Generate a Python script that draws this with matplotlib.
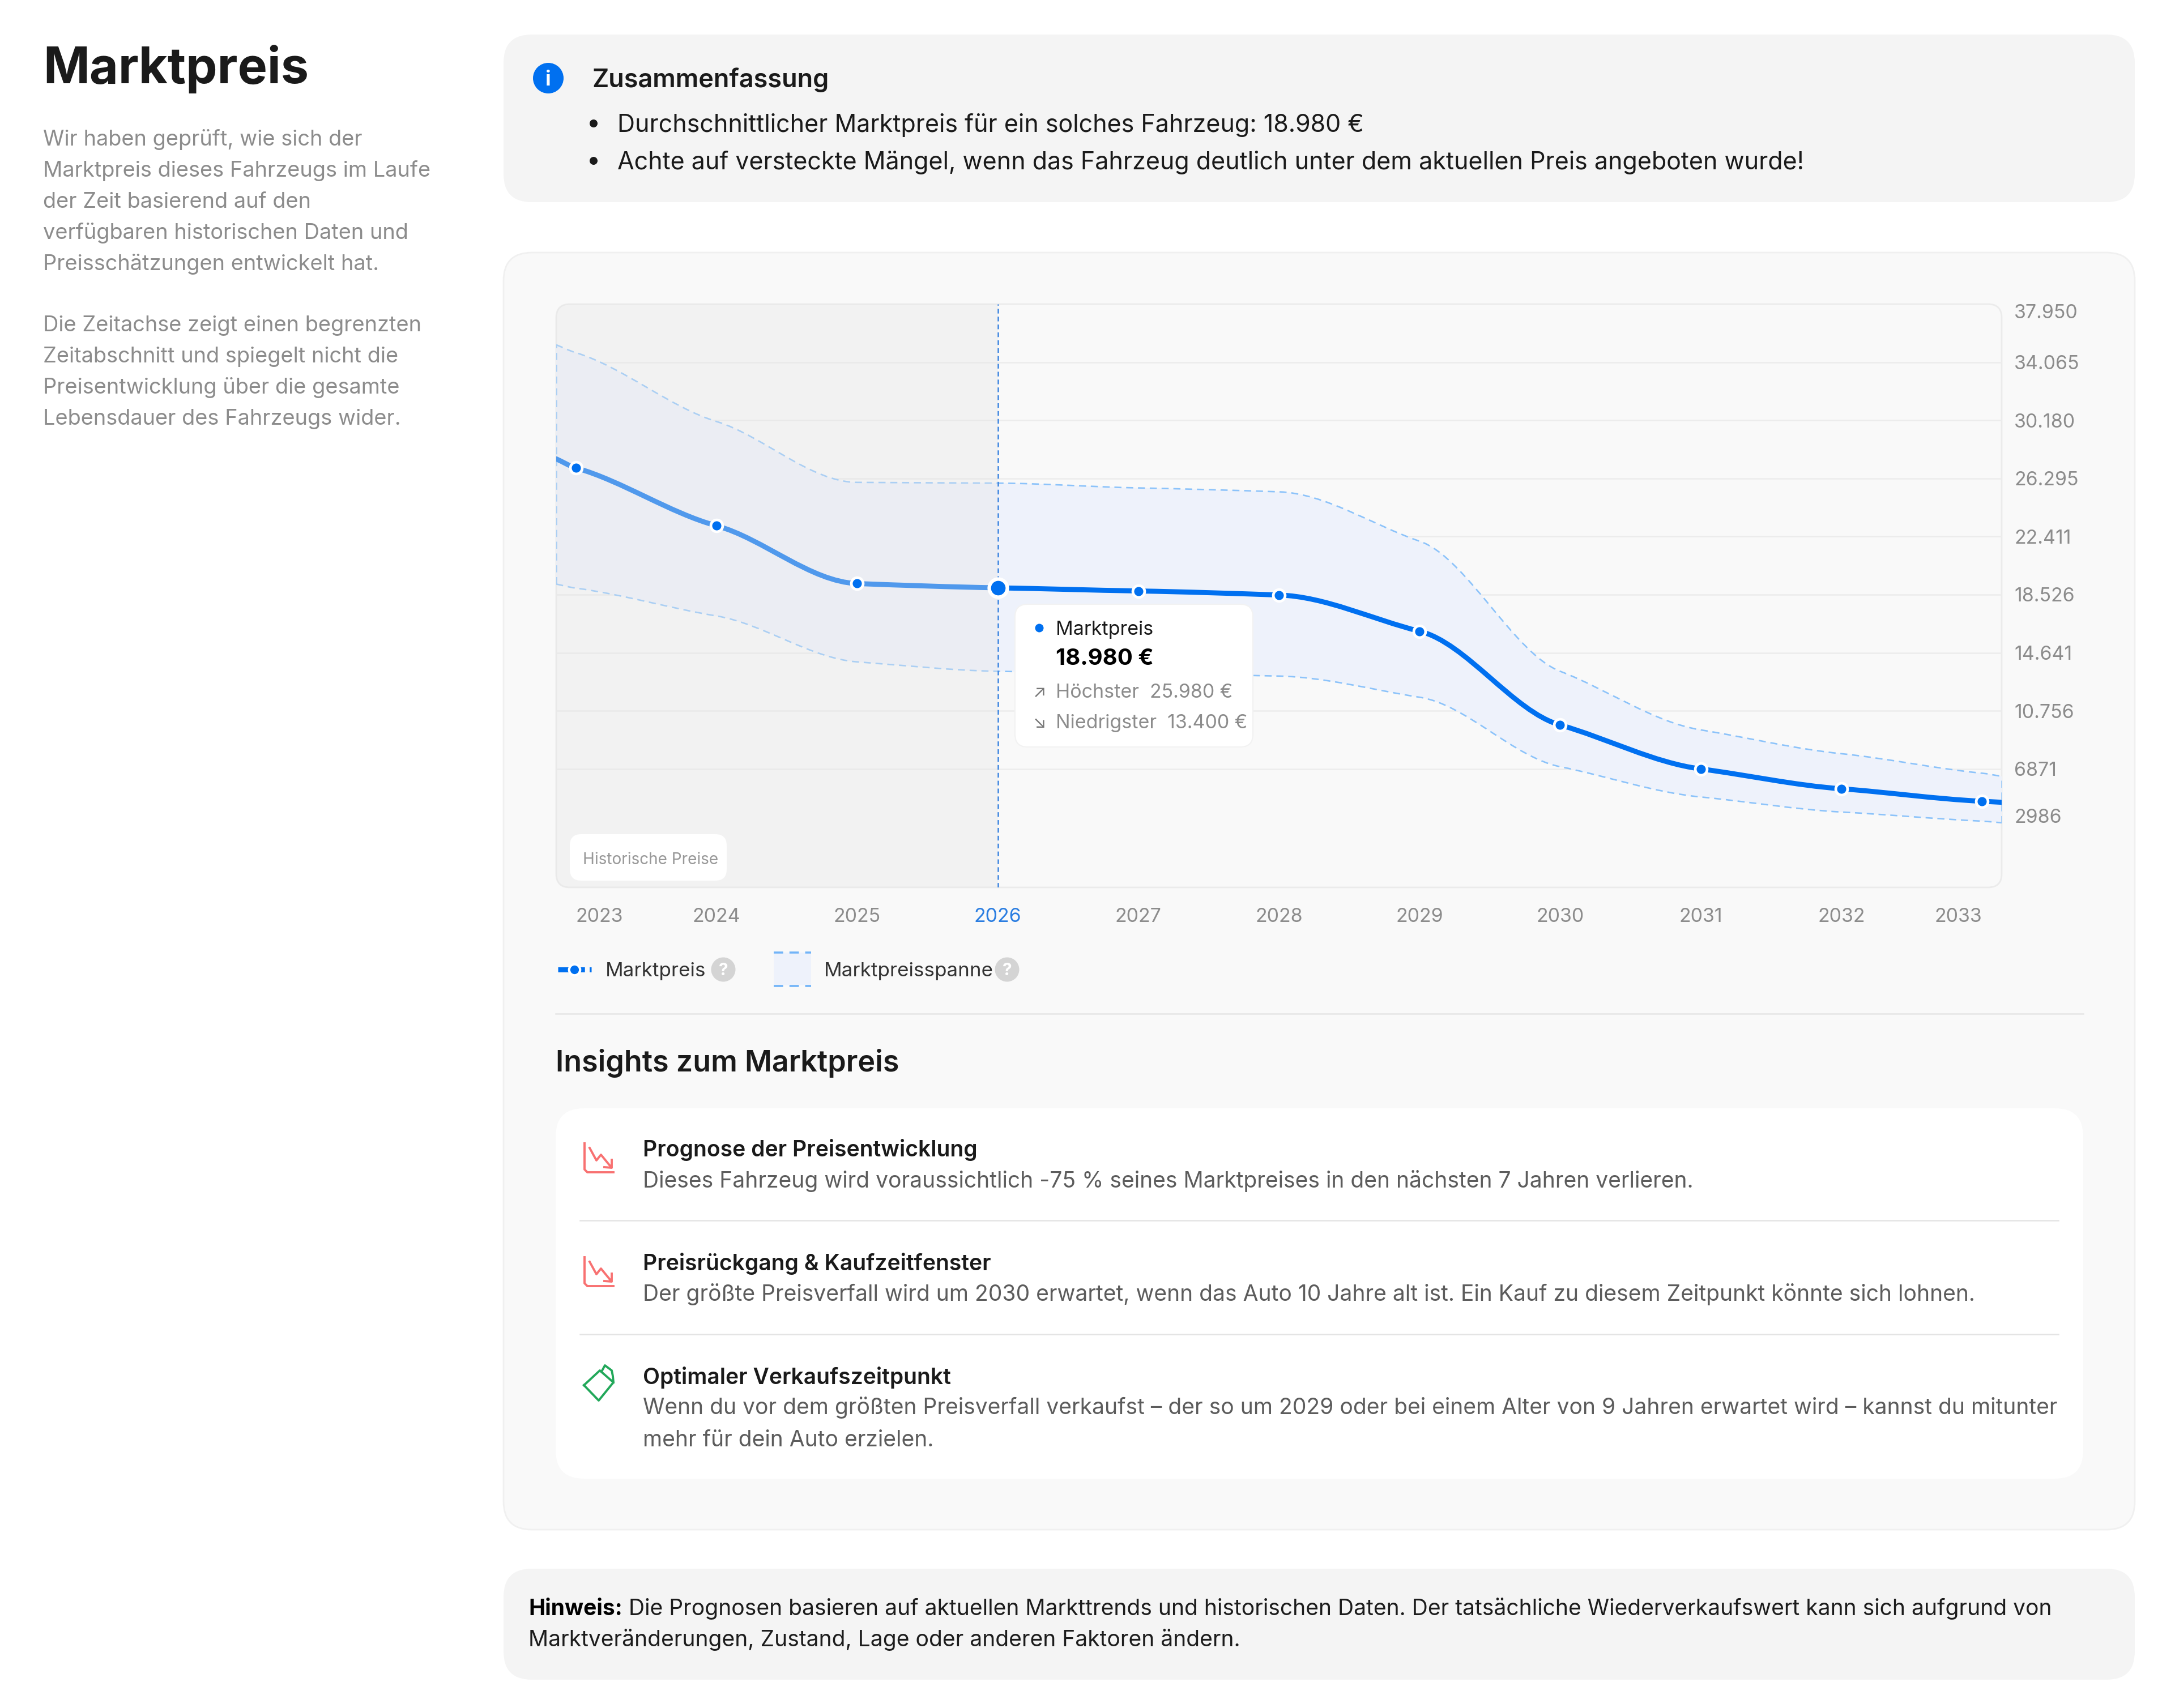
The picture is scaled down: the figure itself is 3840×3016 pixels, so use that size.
import numpy as np
import matplotlib
matplotlib.use("Agg")
import matplotlib.pyplot as plt
from matplotlib.patches import FancyBboxPatch, Circle, PathPatch
from matplotlib.path import Path

plt.rcParams['font.family'] = ['Inter', 'DejaVu Sans']
plt.rcParams['lines.scale_dashes'] = False

# ---------- data ----------
years = [2023, 2024, 2025, 2026, 2027, 2028, 2029, 2030, 2031, 2032, 2033]
edge_left = 2022.86
edge_right = 2033.14
price = [27604, 27000, 23130, 19266, 18980, 18770, 18500, 16080, 9808, 6871, 5544, 4710, 4640]
upper = [35230, 34700, 30100, 26030, 25980, 25660, 25400, 22100, 13400, 9480, 7890, 6586, 6376]
lower = [19230, 18960, 17100, 14030, 13400, 13250, 13080, 11665, 7020, 4995, 3990, 3380, 3270]
y_ticks = [37950, 34065, 30180, 26295, 22411, 18526, 14641, 10756, 6871, 2986]
y_bottom = -1051
current_year = 2026

para1 = ["Wir haben geprüft, wie sich der", "Marktpreis dieses Fahrzeugs im Laufe",
         "der Zeit basierend auf den", "verfügbaren historischen Daten und",
         "Preisschätzungen entwickelt hat."]
para2 = ["Die Zeitachse zeigt einen begrenzten", "Zeitabschnitt und spiegelt nicht die",
         "Preisentwicklung über die gesamte", "Lebensdauer des Fahrzeugs wider."]
summary = ["Durchschnittlicher Marktpreis für ein solches Fahrzeug: 18.980 €",
           "Achte auf versteckte Mängel, wenn das Fahrzeug deutlich unter dem aktuellen Preis angeboten wurde!"]
insights = [
    ("Prognose der Preisentwicklung", 2028,
     [("Dieses Fahrzeug wird voraussichtlich -75 % seines Marktpreises in den nächsten 7 Jahren verlieren.", 2083)]),
    ("Preisrückgang & Kaufzeitfenster", 2229,
     [("Der größte Preisverfall wird um 2030 erwartet, wenn das Auto 10 Jahre alt ist. Ein Kauf zu diesem Zeitpunkt könnte sich lohnen.", 2283)]),
    ("Optimaler Verkaufszeitpunkt", 2430,
     [("Wenn du vor dem größten Preisverfall verkaufst – der so um 2029 oder bei einem Alter von 9 Jahren erwartet wird – kannst du mitunter", 2483),
      ("mehr für dein Auto erzielen.", 2540)]),
]

W, H = 3840, 3016
BLUE = '#0070f0'
GREY = '#8c8c8c'
DARK = '#1a1a1a'

fig = plt.figure(figsize=(W / 100, H / 100), dpi=100, facecolor='white')

def full_axes(z):
    a = fig.add_axes([0, 0, 1, 1], zorder=z)
    a.set_xlim(0, W); a.set_ylim(H, 0); a.axis('off')
    a.patch.set_alpha(0)
    return a

pg = full_axes(0)
top = full_axes(3)

def card(a, x0, y0, x1, y1, r, fc, ec='none', lw=0, z=1):
    p = FancyBboxPatch((x0, y0), x1 - x0, y1 - y0, boxstyle=f"round,pad=0,rounding_size={r}",
                       fc=fc, ec=ec, lw=lw, zorder=z)
    a.add_patch(p)
    return p

def T(a, x, cy, s, px, color=DARK, weight='normal', ha='left', z=5):
    return a.text(x, cy + 0.36 * px, s, fontsize=px * 0.72, color=color, fontweight=weight,
                  ha=ha, va='baseline', zorder=z)

# ---------- page ----------
T(pg, 76, 115, "Marktpreis", 88, color=DARK, weight='bold')
for i, s in enumerate(para1):
    T(pg, 76, 243 + i * 55, s, 38, color=GREY)
for i, s in enumerate(para2):
    T(pg, 76, 571 + i * 55, s, 38, color=GREY)

card(pg, 889, 61, 3769, 357, 50, '#f4f4f4')
pg.add_patch(Circle((968, 138), 27, fc=BLUE, ec='none', zorder=4))
T(pg, 968, 138, "i", 36, color='white', weight='bold', ha='center')
T(pg, 1046, 138, "Zusammenfassung", 45, weight='semibold')
for s, cy in zip(summary, [218, 284]):
    pg.add_patch(Circle((1048, cy), 7, fc=DARK, ec='none', zorder=4))
    T(pg, 1090, cy, s, 43, color=DARK)

card(pg, 889, 446, 3769, 2701, 50, '#f9f9f9', ec='#f0f0f0', lw=2)
frame = card(pg, 982, 537, 3534, 1567, 24, 'none', ec='#ebebeb', lw=2, z=3)

# ---------- chart ----------
ax = fig.add_axes([982 / W, 1 - 1567 / H, (3534 - 982) / W, (1567 - 537) / H], zorder=1)
ax.patch.set_alpha(0)
for s in ax.spines.values():
    s.set_visible(False)
xs = np.array([edge_left] + years + [edge_right], dtype=float)
ax.set_xlim(edge_left, edge_right)
ax.set_ylim(y_bottom, y_ticks[0])

def monotone_path(x, y):
    x = np.asarray(x, float); y = np.asarray(y, float)
    h = np.diff(x); s = np.diff(y) / h
    m = np.zeros_like(y)
    m[0], m[-1] = s[0], s[-1]
    for i in range(1, len(y) - 1):
        if s[i - 1] * s[i] > 0:
            m[i] = (h[i - 1] + h[i]) * 2 * s[i - 1] * s[i] / (s[i - 1] * (h[i - 1] + 2 * h[i]) + s[i] * (2 * h[i - 1] + h[i]))
    v = [(x[0], y[0])]
    for i in range(len(h)):
        v += [(x[i] + h[i] / 3, y[i] + m[i] * h[i] / 3),
              (x[i + 1] - h[i] / 3, y[i + 1] - m[i + 1] * h[i] / 3),
              (x[i + 1], y[i + 1])]
    return np.array(v)

def as_path(v):
    return Path(v, [Path.MOVETO] + [Path.CURVE4] * (len(v) - 1))

vu = monotone_path(xs, upper)
vl = monotone_path(xs, lower)
band_v = np.vstack([vu, vl[::-1], vu[:1]])
band_c = [Path.MOVETO] + [Path.CURVE4] * (len(vu) - 1) + [Path.LINETO] + [Path.CURVE4] * (len(vl) - 1) + [Path.LINETO]
ax.add_patch(PathPatch(Path(band_v, band_c), fc='#eef2fb', ec='none', zorder=1.5))

ax.set_yticks(y_ticks[1:-1])
ax.set_xticks(years)
ax.grid(axis='y', color='#ececec', lw=1.8, zorder=1)
ax.set_axisbelow(True)
ax.grid(axis='x', visible=False)
ax.tick_params(length=0)

DASH = (0, (9, 6))
for v in (vu, vl):
    ax.add_patch(PathPatch(as_path(v), fc='none', ec='#8cc3fa', lw=1.9, ls=DASH, zorder=2))
ax.vlines([edge_left, edge_right], [lower[0], lower[-1]], [upper[0], upper[-1]],
          color='#8cc3fa', lw=1.9, ls=DASH, zorder=2)
ax.add_patch(PathPatch(as_path(monotone_path(xs, price)), fc='none', ec=BLUE, lw=6.4,
                       capstyle='round', zorder=3))
# history overlay
ax.axvspan(edge_left, current_year, color='#e6e6e6', alpha=0.35, lw=0, zorder=4)
ax.axvline(current_year, color='#3d85e0', lw=1.8, ls=(0, (6, 4)), zorder=5)
pts = price[1:-1]
ax.plot(years, pts, ls='none', marker='o', ms=15, mfc=BLUE, mec='white', mew=3.4, zorder=6)
i_now = years.index(current_year)
ax.plot([years[i_now]], [pts[i_now]], ls='none', marker='o', ms=23, mfc=BLUE, mec='white', mew=4.5, zorder=7)

# axis labels
ax.yaxis.tick_right()
ax.set_yticks(y_ticks)
ax.set_yticklabels([f"{v:,}".replace(',', '.') if v > 9999 else str(v) for v in y_ticks])
ax.tick_params(axis='y', labelsize=34 * 0.72, labelcolor=GREY, pad=16)
ax.tick_params(axis='x', labelsize=34 * 0.72, labelcolor=GREY, pad=26)
for g, v in zip(ax.yaxis.get_major_ticks(), y_ticks):
    if v in (y_ticks[0], y_ticks[-1]):
        g.gridline.set_visible(False)
ylabels = ax.get_yticklabels()
ylabels[0].set_va('top')
ylabels[-1].set_va('bottom')
xl = ax.get_xticklabels()
xl[0].set_ha('left'); xl[-1].set_ha('right')
xl[years.index(current_year)].set_color('#2a7de1')

# clip chart content to rounded frame
for art in list(ax.patches) + list(ax.lines) + list(ax.collections):
    art.set_clip_path(frame)

# ---------- tooltip + badge ----------
card(top, 1792, 1067, 2212, 1319, 22, 'white', ec='#f2f2f2', lw=1.5)
top.add_patch(Circle((1835, 1109), 7.5, fc=BLUE, ec='none', zorder=4))
T(top, 1864, 1109, "Marktpreis", 34, color=DARK)
T(top, 1864, 1160, "18.980 €", 40, color='#000000', weight='bold')
T(top, 1835, 1220, "↗", 30, color='#777777', ha='center')
T(top, 1864, 1220, "Höchster  25.980 €", 34, color=GREY)
T(top, 1835, 1274, "↘", 30, color='#777777', ha='center')
T(top, 1864, 1274, "Niedrigster  13.400 €", 34, color=GREY)
card(top, 1006, 1473, 1283, 1555, 20, 'white')
T(top, 1029, 1516, "Historische Preise", 28, color='#999999')

# ---------- legend ----------
pg.plot([985, 1044], [1712, 1712], color=BLUE, lw=6.4, solid_capstyle='round', zorder=4, ls=(0, (14, 6)))
pg.plot([1014], [1712], marker='o', ms=14, mfc=BLUE, mec='white', mew=3, zorder=5)
T(pg, 1069, 1711, "Marktpreis", 35, color='#333333')
def qmark(x):
    pg.add_patch(Circle((x, 1712), 21.5, fc='#d4d4d4', ec='none', zorder=4))
    T(pg, x, 1711, "?", 30, color='white', ha='center', weight='bold')
qmark(1277)
pg.add_patch(plt.Rectangle((1366, 1682), 66, 58, fc='#eef2fb', ec='none', zorder=3))
pg.plot([1366, 1432], [1682, 1682], color='#72b4f8', lw=2.6, ls=(0, (12, 8)), zorder=4)
pg.plot([1366, 1432], [1741, 1741], color='#72b4f8', lw=2.6, ls=(0, (12, 8)), zorder=4)
T(pg, 1455, 1711, "Marktpreisspanne", 35, color='#333333')
qmark(1778)
pg.plot([981, 3678], [1790, 1790], color='#e6e6e6', lw=1.8, zorder=2)

# ---------- insights ----------
T(pg, 981, 1873, "Insights zum Marktpreis", 52, weight='semibold')
card(pg, 981, 1957, 3678, 2611, 50, 'white')
for y in (2155, 2356):
    pg.plot([1024, 3634], [y, y], color='#e4e4e4', lw=1.8, zorder=2)

def icon_down(y0, c='#f87171'):
    x0 = 1031
    pg.plot([x0 + 1, x0 + 1, x0 + 6, x0 + 52], [y0, y0 + 46, y0 + 51, y0 + 51], color=c, lw=2.8, zorder=4)
    pg.plot([x0 + 10, x0 + 22, x0 + 30, x0 + 48], [y0 + 8, y0 + 30, y0 + 20, y0 + 42], color=c, lw=2.8, zorder=4)
    pg.plot([x0 + 36, x0 + 49, x0 + 49], [y0 + 42, y0 + 43, y0 + 29], color=c, lw=2.8, zorder=4)
icon_down(2019)
icon_down(2220)
g = '#22a85a'
pg.plot([1031, 1059, 1083, 1057, 1031], [2446, 2420, 2441, 2473, 2446], color=g, lw=2.8, zorder=4)
pg.plot([1062, 1068, 1080, 1082, 1083], [2422, 2411, 2420, 2430, 2441], color=g, lw=2.8, zorder=4)

for title, cy, lines in insights:
    T(pg, 1135, cy, title, 39, color=DARK, weight='semibold')
    for s, ly in lines:
        T(pg, 1135, ly, s, 39, color='#5c5c5c')

# ---------- note ----------
card(pg, 889, 2770, 3769, 2966, 50, '#f4f4f4')
t0 = T(pg, 933, 2838, "Hinweis:", 39, color='#000000', weight='bold')
fig.canvas.draw()
bb = t0.get_window_extent()
T(pg, bb.x1 + 11, 2838, "Die Prognosen basieren auf aktuellen Markttrends und historischen Daten. Der tatsächliche Wiederverkaufswert kann sich aufgrund von", 39, color='#1c1c1c')
T(pg, 933, 2893, "Marktveränderungen, Zustand, Lage oder anderen Faktoren ändern.", 39, color='#1c1c1c')

fig.savefig('out.png', dpi=100, facecolor='white')
